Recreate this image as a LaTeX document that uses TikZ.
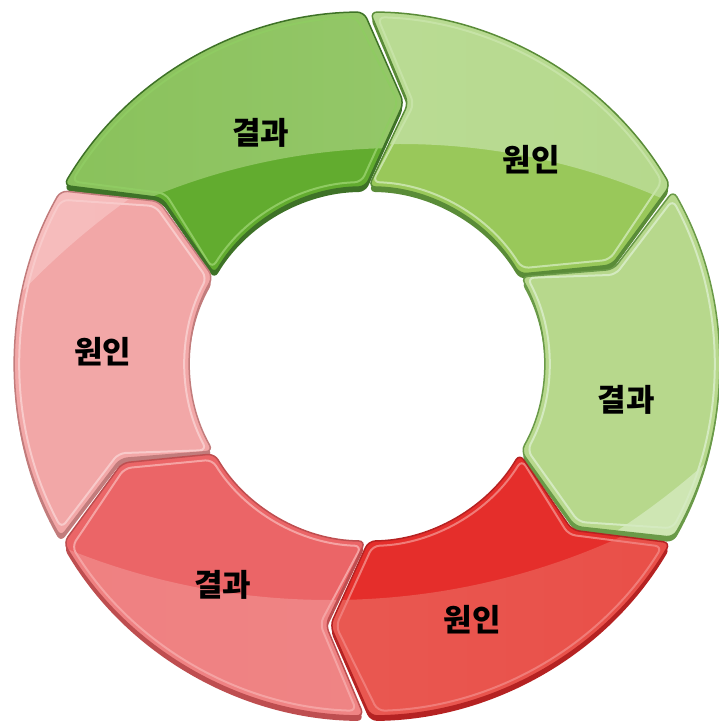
\documentclass[tikz,border=0pt]{standalone}
\usepackage{fontspec}
\newfontfamily\krfont{Noto Sans CJK KR}
\usepackage{tikz}
\usetikzlibrary{calc}
\usepackage{xcolor}

% ring colours
\definecolor{baseA}{HTML}{62AC2F}\definecolor{glAl}{HTML}{7FBC4F}\definecolor{glAr}{HTML}{A9D282}\definecolor{edgeA}{HTML}{3E7227}\definecolor{hlA}{HTML}{8FCB62}
\definecolor{baseB}{HTML}{99C85A}\definecolor{glBl}{HTML}{C2E0A2}\definecolor{glBr}{HTML}{B0D684}\definecolor{edgeB}{HTML}{5A8C38}\definecolor{hlB}{HTML}{C6E3A6}
\definecolor{baseC}{HTML}{B7D88C}\definecolor{glCl}{HTML}{C6E1A6}\definecolor{glCr}{HTML}{D0E7B6}\definecolor{edgeC}{HTML}{6A9A48}\definecolor{hlC}{HTML}{D4EAC0}
\definecolor{baseD}{HTML}{E52E2B}\definecolor{glDl}{HTML}{EA6A63}\definecolor{glDr}{HTML}{E8463F}\definecolor{edgeD}{HTML}{B52222}\definecolor{hlD}{HTML}{F07C78}
\definecolor{baseE}{HTML}{EB6567}\definecolor{glEl}{HTML}{EE7B7C}\definecolor{glEr}{HTML}{F08C8C}\definecolor{edgeE}{HTML}{BE4E50}\definecolor{hlE}{HTML}{F5A3A3}
\definecolor{baseF}{HTML}{F2A7A7}\definecolor{glFl}{HTML}{F6BDBD}\definecolor{glFr}{HTML}{F5B5B5}\definecolor{edgeF}{HTML}{C27C7C}\definecolor{hlF}{HTML}{F8CACA}

\newcommand{\Ro}{352}
\newcommand{\Ri}{177}
\newcommand{\Rm}{264}
\newcommand{\tipang}{8.5}
\newcommand{\gapang}{0.5}

% one chevron piece of the ring: #1 = trailing angle, #2 = inset
\newcommand{\ringpiece}[2]{%
  ({#1-\gapang-#2*0.25}:{\Ro-#2})
  arc[start angle={#1-\gapang-#2*0.25}, end angle={#1-60+\gapang+#2*0.25}, radius={\Ro-#2}]
  -- ({#1-60-\tipang+\gapang+#2*0.25}:\Rm)
  -- ({#1-60+\gapang+#2*0.25}:{\Ri+#2})
  arc[start angle={#1-60+\gapang+#2*0.25}, end angle={#1-\gapang-#2*0.25}, radius={\Ri+#2}]
  -- ({#1-\tipang-\gapang-#2*0.25}:\Rm) -- cycle}

\begin{document}
\begin{tikzpicture}[
  x=1pt, y=1pt,
  seglabel/.style={font=\krfont\bfseries\fontsize{31}{36}\selectfont, text=black},
  piece/.style={rounded corners=7pt}
]
\useasboundingbox (-367,-364) rectangle (352,364);

% 3D edges
\foreach \ang/\col in {150/A, 90/B, 30/C, -30/D, -90/E, 210/F}
  \fill[edge\col, piece, shift={(0,-5)}] \ringpiece{\ang}{0};

% Faces with gloss
\foreach \ang/\col/\gx/\gy/\gr in {150/A/33/-436/652, 90/B/33/-436/656, 30/C/-150/450/735,
                                   -30/D/-37/464/700, -90/E/-37/464/700, 210/F/200/-450/755}{
  \fill[base\col, piece] \ringpiece{\ang}{0};
  \begin{scope}
    \clip[piece] \ringpiece{\ang}{0};
    \shade[even odd rule, left color=gl\col l, right color=gl\col r]
      (-400,-400) rectangle (400,400) (\gx,\gy) circle (\gr);
  \end{scope}
  \draw[hl\col, line width=2pt, piece] \ringpiece{\ang}{5};
  \draw[edge\col, line width=1.5pt, piece] \ringpiece{\ang}{0};
}

% Labels
\node[seglabel] (resultA) at (-106,231) {결과};
\node[seglabel] (causeB) at (164,204) {원인};
\node[seglabel] (resultC) at (259,-36) {결과};
\node[seglabel] (causeD) at (105,-256) {원인};
\node[seglabel] (resultE) at (-144,-221) {결과};
\node[seglabel] (causeF) at (-264,12) {원인};
\end{tikzpicture}
\end{document}
